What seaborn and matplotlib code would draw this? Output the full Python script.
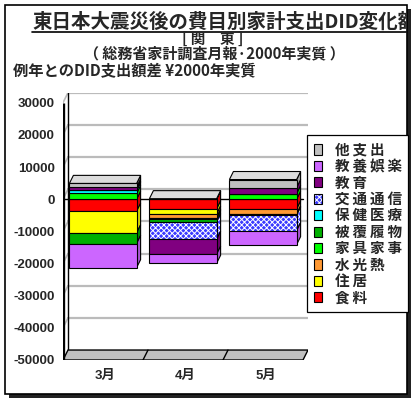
import numpy as np
import pandas as pd
import matplotlib.pyplot as plt
import seaborn as sns
from matplotlib.patches import Polygon, Patch, Rectangle
from matplotlib.lines import Line2D
from matplotlib.transforms import Bbox, TransformedBbox
from matplotlib.font_manager import FontProperties
from matplotlib import colors as mcolors

# data (yen, difference from normal years)
months = ['3月', '4月', '5月']
series = ['食料', '住居', '水光熱', '家具家事', '被覆履物', '保健医療', '交通通信', '教育', '教養娯楽', '他支出']
food = [-3800, -3100, -3100]
housing = [-6700, -1550, 0]
utilities = [0, -1050, -1550]
furniture = [1800, -400, 1750]
clothing = [-3300, -950, -400]
medical = [950, 0, 0]
transport = [250, -5450, -4750]
education = [800, -4650, 1850]
culture = [-7500, -2800, -4350]
other = [1100, 150, 2500]
colors = ['#FF0000', '#FFFF00', '#FF9933', '#00FF00', '#00B000',
          '#00FFFF', '#3A3AFF', '#800080', '#CC66FF', '#C0C0C0']
yticks = list(range(-50000, 30001, 10000))

vals = np.array([food, housing, utilities, furniture, clothing,
                 medical, transport, education, culture, other], dtype=float)

sns.set_style('white')
plt.rcParams['font.family'] = ['Noto Sans CJK JP', 'DejaVu Sans']
plt.rcParams['hatch.linewidth'] = 0.7

W, H = 417, 405
def fx(px):
    return px / W
def fy(py):
    return 1 - py / H

fig = plt.figure(figsize=(W / 100, H / 100), dpi=100)

# frame with shadow
fig.add_artist(Rectangle((fx(9), fy(398)), 402 / W, 389 / H, transform=fig.transFigure,
                         facecolor='#222222', edgecolor='none', zorder=-3))
fig.add_artist(Rectangle((fx(5), fy(394)), 402 / W, 389 / H, transform=fig.transFigure,
                         facecolor='white', edgecolor='black', lw=1.2, zorder=-2))

# titles
t = fig.text(fx(32), fy(21.5), '東日本大震災後の費目別家計支出DID変化額', fontsize=14,
             weight='bold', ha='left', va='center')
t.set_clip_box(TransformedBbox(Bbox.from_extents(0, 0, fx(406), 1), fig.transFigure))
t.set_clip_on(True)
fig.add_artist(Line2D([fx(32), fx(406)], [fy(31.5), fy(31.5)], transform=fig.transFigure,
                      color='black', lw=1.2))
fig.text(fx(213), fy(38.5), '[ 関　東 ]', fontsize=10.5, weight='bold', ha='center', va='center')
fig.text(fx(214), fy(53.5), '（ 総務省家計調査月報·2000年実質 ）', fontsize=10.8,
         weight='bold', ha='center', va='center')
fig.text(fx(13), fy(71), '例年とのDID支出額差 ¥2000年実質', fontsize=11,
         weight='bold', ha='left', va='center')

# plot area: front axis at x=63px, floor front at y=360px
DX, DY = 0.0625, 3100      # wall depth offset in data units
ax = fig.add_axes([fx(63), fy(360), (308 - 63) / W, (360 - 92.7) / H])
ax.set_xlim(0, 3 + DX)
ax.set_ylim(-50000, 30000 + DY)
ax.patch.set_visible(False)

# back wall gridlines with diagonal links to the front axis
for v in yticks[1:]:
    ax.plot([DX, 3 + DX], [v + DY, v + DY], color='#BBBBBB', lw=1.6, zorder=1)
    ax.plot([0, DX], [v, v + DY], color='#BBBBBB', lw=1.2, zorder=1)
ax.plot([0, 3], [0, 0], color='black', lw=1, zorder=1.5)
ax.plot([DX, DX], [-50000 + DY, 30000 + DY], color='black', lw=1, zorder=1.5)

# floor
ax.add_patch(Polygon([(0, -50000), (3, -50000), (3 + DX, -50000 + DY), (DX, -50000 + DY)],
                     closed=True, facecolor='#C0C0C0', edgecolor='black', lw=1, zorder=1.6))
for k in [1, 2]:
    ax.plot([k, k + DX], [-50000, -50000 + DY], color='black', lw=1, zorder=1.7)
ax.plot([0, 0], [-50000, 30000], color='black', lw=2.4, zorder=5, solid_capstyle='butt')

# stacked 3D bars
xpos = np.arange(3) + 0.5
BW = 0.84
ddx, ddy = 0.05, 2500
pos_b = np.zeros(3)
neg_b = np.zeros(3)
top_color = ['#C0C0C0'] * 3
for k, name in enumerate(series):
    v = vals[k]
    bottom = np.where(v >= 0, pos_b, neg_b)
    n_before = len(ax.patches)
    sns.barplot(x=xpos, y=v, bottom=bottom, native_scale=True, width=BW,
                color=colors[k], saturation=1, edgecolor='black', linewidth=0.8,
                errorbar=None, ax=ax, zorder=3)
    new = ax.patches[n_before:]
    side = mcolors.to_rgb(colors[k])
    side = tuple(c * 0.82 for c in side)
    if name == '交通通信':
        for p in new:
            p.set_hatch('xxxxxx')
            p._hatch_color = mcolors.to_rgba('white')
        side = colors[k]
    for i in range(3):
        if v[i] == 0:
            continue
        xr = xpos[i] + BW / 2
        y0, y1 = bottom[i], bottom[i] + v[i]
        sp = Polygon([(xr, y0), (xr, y1), (xr + ddx, y1 + ddy), (xr + ddx, y0 + ddy)],
                     closed=True, facecolor=side, edgecolor='black', lw=0.8, zorder=2.9)
        if name == '交通通信':
            sp.set_hatch('xxxxxx')
            sp._hatch_color = mcolors.to_rgba('white')
        ax.add_patch(sp)
        if v[i] > 0:
            top_color[i] = colors[k]
    pos_b = pos_b + np.where(v > 0, v, 0)
    neg_b = neg_b + np.where(v < 0, v, 0)

for i in range(3):
    xl, xr = xpos[i] - BW / 2, xpos[i] + BW / 2
    top = pos_b[i]
    cap = mcolors.to_rgb(top_color[i])
    cap = tuple(c + (1 - c) * 0.45 for c in cap)
    ax.add_patch(Polygon([(xl, top), (xr, top), (xr + ddx, top + ddy), (xl + ddx, top + ddy)],
                         closed=True, facecolor=cap, edgecolor='black', lw=0.8, zorder=3.1))

ax.set_xlim(0, 3 + DX)
ax.set_ylim(-50000, 30000 + DY)
sns.despine(ax=ax, left=True, bottom=True)
ax.set_yticks(yticks)
ax.set_yticklabels([str(t) for t in yticks])
ax.set_xticks(xpos + DX / 2)
ax.set_xticklabels(months)
ax.tick_params(axis='y', length=0, pad=6)
ax.tick_params(axis='x', length=0, pad=7)
for lab in ax.get_yticklabels() + ax.get_xticklabels():
    lab.set_fontfamily(['Liberation Sans', 'Noto Sans CJK JP'])
    lab.set_fontweight('bold')
    lab.set_fontsize(9.5)
ax.set_xlabel('')
ax.set_ylabel('')
ax.grid(False)

# legend
handles = []
for k in range(len(series) - 1, -1, -1):
    h = Patch(facecolor=colors[k], edgecolor='black', lw=0.8)
    if series[k] == '交通通信':
        h.set_hatch('xxxxxx')
        h._hatch_color = mcolors.to_rgba('white')
    handles.append(h)
labels = ['\u2009'.join(series[k]) for k in range(len(series) - 1, -1, -1)]
leg = fig.legend(handles, labels, loc='upper left', bbox_to_anchor=(fx(307), fy(135)),
                 prop=FontProperties(family=['Noto Sans CJK JP', 'DejaVu Sans'],
                                     size=10.5, weight='bold'),
                 frameon=True, fancybox=False, framealpha=1, edgecolor='black',
                 handlelength=0.55, handleheight=0.7, handletextpad=0.9,
                 labelspacing=0.03, borderpad=0.45, borderaxespad=0)
leg.get_frame().set_linewidth(0.9)

fig.savefig('out.png', dpi=100)
